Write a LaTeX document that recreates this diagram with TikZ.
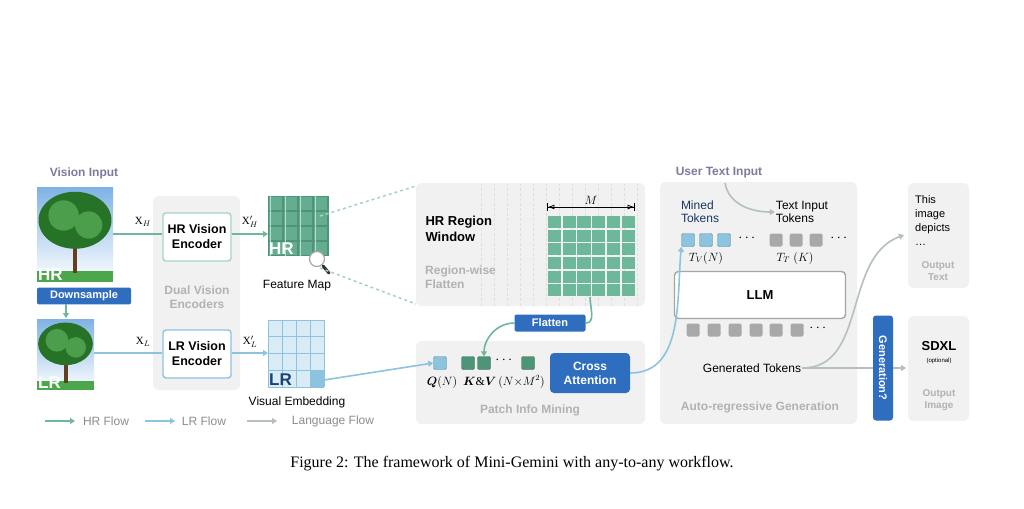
\documentclass[tikz,border=0pt]{standalone}
\usepackage{amsmath,bm}
\usepackage{fontspec}
\setmainfont{Liberation Serif}
\setsansfont{Liberation Sans}
\usetikzlibrary{arrows.meta,positioning}
\definecolor{hrgreen}{HTML}{6DB89A}
\definecolor{hrdark}{HTML}{4E9478}
\definecolor{lrblue}{HTML}{8CC3DF}
\definecolor{lrlight}{HTML}{D9ECF6}
\definecolor{boxblue}{HTML}{2F6DBE}
\definecolor{panel}{HTML}{F1F1F1}
\definecolor{langgray}{HTML}{B4C0C0}
\definecolor{tokgray}{HTML}{A8A8A8}
\definecolor{titlepurple}{HTML}{7D7A9C}
\definecolor{sky}{HTML}{7FB2E5}
\tikzset{
  txt/.style={font=\sffamily\fontsize{12}{13}\selectfont, align=center, inner sep=1pt},
  gtxt/.style={txt, text=gray!80, font=\sffamily\bfseries\fontsize{12}{14}\selectfont},
  panelbox/.style={fill=panel, rounded corners=6pt, draw=none},
  encoder/.style={draw=#1, line width=1.4pt, fill=white, rounded corners=3pt, minimum width=68pt, minimum height=48pt, font=\sffamily\bfseries\fontsize{12.5}{15}\selectfont, align=center},
  bluebtn/.style={fill=boxblue, rounded corners=2pt, text=white, font=\sffamily\bfseries\fontsize{11}{12}\selectfont, align=center},
  tok/.style={draw=#1!70!black, fill=#1, rounded corners=1.5pt, minimum size=13pt, inner sep=0pt},
  dots/.style={font=\bfseries\fontsize{14}{14}\selectfont, inner sep=0pt},
  hrflow/.style={hrgreen, line width=1.6pt, -{Triangle[length=5pt,width=6pt]}},
  lrflow/.style={lrblue, line width=1.6pt, -{Triangle[length=5pt,width=6pt]}},
  langflow/.style={langgray, line width=1.6pt, -{Triangle[length=5pt,width=6pt]}},
}
\newcommand{\treepic}[5]{% x1 y1 x2 y2 name
  \shade[top color=sky, bottom color=white] (#1,#2) rectangle (#3,#4);
  \fill[green!50!black!70] (#1,{#4-0.12*(#4-#2)}) rectangle (#3,#4);
  \fill[brown!50!black] ({(#1+#3)/2-2},{#2+0.55*(#4-#2)}) rectangle ({(#1+#3)/2+2},{#4-0.1*(#4-#2)});
  \fill[green!35!black!85] ({(#1+#3)/2},{#2+0.35*(#4-#2)}) ellipse ({0.48*(#3-#1)} and {0.3*(#4-#2)});
  \fill[green!45!black!70] ({(#1+#3)/2-0.15*(#3-#1)},{#2+0.3*(#4-#2)}) circle ({0.2*(#3-#1)});
  \fill[green!45!black!70] ({(#1+#3)/2+0.18*(#3-#1)},{#2+0.4*(#4-#2)}) circle ({0.18*(#3-#1)});
  \node[anchor=south west, text=white, font=\sffamily\bfseries\fontsize{17}{17}\selectfont, inner sep=1pt] (#5) at (#1,#4) {#5};
}
\begin{document}
\begin{tikzpicture}[x=1pt,y=-1pt]
\useasboundingbox[fill=white] (0,0) rectangle (1024,508);

% vision input
\node[txt, text=titlepurple, font=\sffamily\bfseries\fontsize{12}{13}\selectfont] (visin) at (84,173) {Vision Input};
\treepic{37}{187}{113}{282}{HR}
\treepic{37}{319}{94}{390}{LR}
\node[bluebtn, minimum width=94pt, minimum height=16pt] (down) at (84,296) {Downsample};
\coordinate (lrtop) at (66,318);
\draw[hrflow] (66,304) -- (lrtop);

% dual encoders
\fill[panelbox] (153,196) rectangle (240,390);
\node[encoder=hrgreen!60] (hrenc) at (197,237) {HR Vision\\Encoder};
\node[encoder=lrblue] (lrenc) at (197,354) {LR Vision\\Encoder};
\node[gtxt, text=gray!60] (dual) at (197,297) {Dual Vision\\Encoders};
\draw[hrgreen, line width=1.6pt] (113,234) -- (hrenc.west |- 0,234);
\draw[lrblue, line width=1.6pt] (94,353) -- (lrenc.west |- 0,353);
\node[font=\fontsize{11}{11}\selectfont] at (143,222) {X$_H$};
\node[font=\fontsize{11}{11}\selectfont] at (143,342) {X$_L$};

% feature map
\fill[hrdark] (268,196) rectangle (329,256);
\foreach \i in {0,...,3} \foreach \j in {0,...,3}
  \fill[hrgreen!70!hrdark] ({269+\i*15},{197+\j*15}) rectangle ({282+\i*15},{210+\j*15});
\draw[hrgreen!50, line width=0.8pt, step=15] (268,196) grid (328,256);
\node[anchor=south west, text=white, font=\sffamily\bfseries\fontsize{17}{17}\selectfont, inner sep=1pt] (hrfm) at (268,256) {HR};
\node[txt] (fmap) at (297,286) {Feature Map};
\draw[hrflow] (hrenc.east |- 0,234) -- (268,234);
\node[font=\fontsize{11}{11}\selectfont] at (250,222) {X$'_H$};
% magnifier
\draw[black!80, line width=3pt, line cap=round] (323,266) -- (329,273);
\draw[gray!70, fill=white, line width=1.2pt] (317,259) circle (7.5);

% visual embedding
\fill[lrlight] (268,320) rectangle (324,387);
\fill[lrblue] (310,370) rectangle (324,387);
\foreach \x in {268,282,296,310,324} \draw[lrblue, line width=0.8pt] (\x,320) -- (\x,387);
\foreach \y in {320,336.75,353.5,370.25,387} \draw[lrblue, line width=0.8pt] (268,\y) -- (324,\y);
\node[anchor=south west, text=boxblue!60!black, font=\sffamily\bfseries\fontsize{17}{17}\selectfont, inner sep=1pt] (lrve) at (268,387) {LR};
\node[txt] (vemb) at (297,402) {Visual Embedding};
\draw[lrflow] (lrenc.east |- 0,353) -- (268,353);
\node[font=\fontsize{11}{11}\selectfont] at (250,342) {X$'_L$};

% region window
\fill[panelbox] (416,183) rectangle (645,306);
\draw[gray!25, densely dashed, step=13] (481,184) grid (645,306);
\draw[hrgreen!60, dashed, line width=1.5pt] (320,216) -- (416,186);
\draw[hrgreen!60, dashed, line width=1.5pt] (320,268) -- (416,304);
\node[anchor=north west, font=\sffamily\bfseries\fontsize{13}{16}\selectfont, align=left] (hrwin) at (422,213) {HR Region\\Window};
\node[anchor=north west, gtxt, text=gray!60, align=left] (rflat) at (424,265) {Region-wise\\Flatten};
\foreach \i in {0,...,5} \foreach \j in {0,...,5}
  \fill[hrgreen] ({547+\i*14.8+0.8},{215+\j*13.7+0.8}) rectangle ({547+(\i+1)*14.8-0.8},{215+(\j+1)*13.7-0.8});
\draw[{Bar[width=8pt]Latex[open]}-{Latex[open]Bar[width=8pt]}, line width=0.8pt] (547,207) -- node[above, font=\itshape\fontsize{13}{13}\selectfont, inner sep=2pt] (mlab) {$M$} (635,207);

% patch info mining
\fill[panelbox] (416,341) rectangle (645,424);
\node[bluebtn, minimum width=71pt, minimum height=17pt] (flat) at (550,323) {Flatten};
\node[tok=lrblue] (q) at (440,363) {};
\node[tok=hrdark] (k1) at (468,363) {};
\node[tok=hrdark] (k2) at (484,363) {};
\node[dots] (kdots) at (505,360) {$\cdots$};
\node[tok=hrdark] (k3) at (528,363) {};
\node[font=\fontsize{12}{12}\selectfont] (qlab) at (442,382) {$\bm{Q}(N)$};
\node[font=\fontsize{12}{12}\selectfont] (kvlab) at (504,382) {$\bm{K}\&\bm{V}\,(N{\times}M^2)$};
\node[bluebtn, rounded corners=4pt, minimum width=80pt, minimum height=40pt, font=\sffamily\bfseries\fontsize{12}{14}\selectfont] (cross) at (590,373) {Cross\\Attention};
\node[gtxt, text=gray!60] (pim) at (530,410) {Patch Info Mining};
\draw[hrgreen, line width=1.6pt] (590,297) to[out=-90, in=0] (flat.east);
\draw[hrflow] (flat.west) to[out=180, in=90] (k2.north);
\draw[lrflow] (324,380) -- (q.west);

% auto-regressive
\fill[panelbox] (660,182) rectangle (857,424);
\node[txt, text=titlepurple, font=\sffamily\bfseries\fontsize{12}{13}\selectfont] (utxt) at (719,173) {User Text Input};
\node[txt, text=boxblue!50!black, align=left] (mined) at (700,212) {Mined\\Tokens};
\node[txt, align=left] (tint) at (802,212) {Text Input\\Tokens};
\draw[langflow] (725,183) to[out=-80, in=180] (tint.west);
\foreach \x/\n in {688/m1,706/m2,724/m3} \node[tok=lrblue] (\n) at (\x,240) {};
\node[dots] (mdots) at (748,238) {$\cdots$};
\foreach \x/\n in {776/t1,796/t2,816/t3} \node[tok=tokgray, draw=none] (\n) at (\x,240) {};
\node[dots] (tdots) at (840,238) {$\cdots$};
\node[font=\fontsize{12}{12}\selectfont] (tv) at (706,258) {$T_V(N)$};
\node[font=\fontsize{12}{12}\selectfont] (tt) at (795,258) {$T_T\;(K)$};
\node[draw=gray!70, line width=1.4pt, fill=white, rounded corners=4pt, minimum width=171pt, minimum height=47pt, font=\sffamily\bfseries\fontsize{13}{13}\selectfont] (llm) at (760,295) {LLM};
\foreach \x [count=\k] in {693,714,735,756,776,797} \node[tok=tokgray, draw=none] (g\k) at (\x,330) {};
\node[dots] (gdots) at (819,328) {$\cdots$};
\node[txt] (gen) at (752,368) {Generated Tokens};
\node[gtxt, text=gray!60] (arg) at (760,407) {Auto-regressive Generation};
\draw[lrflow] (cross.east) to[out=0, in=-95] (m1.south west);

% outputs
\fill[panelbox] (908,183) rectangle (969,288);
\node[anchor=north west, txt, align=left, font=\sffamily\fontsize{11}{14}\selectfont] (outtxt) at (914,194) {This\\image\\depicts\\\dots};
\node[gtxt, text=gray!60, font=\sffamily\bfseries\fontsize{10}{12}\selectfont] (otlab) at (938,271) {Output\\Text};
\fill[panelbox] (908,316) rectangle (969,421);
\node[font=\sffamily\bfseries\fontsize{13}{13}\selectfont] (sdxl) at (939,346) {SDXL};
\node[font=\sffamily\fontsize{6}{7}\selectfont] (opt) at (939,361) {(optional)};
\node[gtxt, text=gray!60, font=\sffamily\bfseries\fontsize{10}{12}\selectfont] (oilab) at (939,400) {Output\\Image};
\coordinate (otin) at (904,235);
\coordinate (oiin) at (906,368);
\draw[langflow] (gen.east) -- (oiin);
\draw[langflow] (gen.east) to[out=0, in=200] (otin);
\node[bluebtn, rounded corners=3pt, minimum width=105pt, minimum height=20pt, rotate=-90] (genq) at (883,368) {Generation?};

% legend
\draw[hrflow] (45,421) -- (75,421);
\node[txt, text=gray!90] (lhr) at (106,421) {HR Flow};
\draw[lrflow] (145,421) -- (175,421);
\node[txt, text=gray!90] (llr) at (204,421) {LR Flow};
\draw[langflow] (247,421) -- (277,421);
\node[txt, text=gray!90] (llang) at (333,421) {Language Flow};

% caption
\node[font=\fontsize{16}{16}\selectfont] (cap) at (512,464) {Figure 2: The framework of Mini-Gemini with any-to-any workflow.};
\end{tikzpicture}
\end{document}
